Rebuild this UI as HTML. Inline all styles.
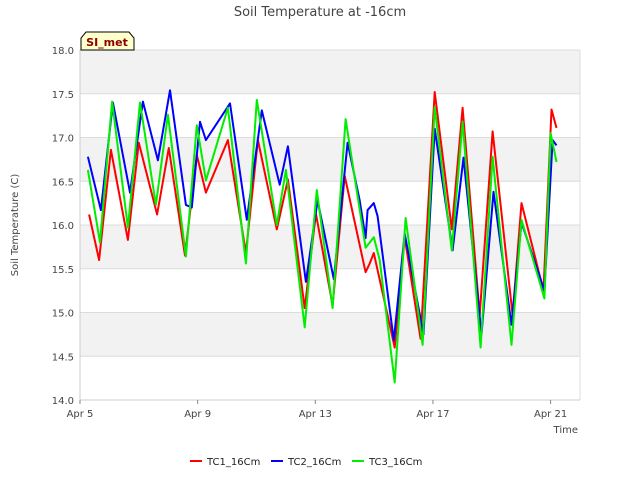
<!DOCTYPE html>
<html><head><meta charset="utf-8"><style>
body{margin:0;background:#fff;font-family:"Liberation Sans","DejaVu Sans",sans-serif}
svg text{font-family:"DejaVu Sans","Liberation Sans",sans-serif}
</style></head><body>
<svg id="c" width="640" height="480" xmlns="http://www.w3.org/2000/svg">
<rect width="640" height="480" fill="#fff"/>
<text x="320" y="16" text-anchor="middle" font-size="13" fill="#444">Soil Temperature at -16cm</text>
<g id="bands"></g><g id="axes"></g><g id="series"></g>
<g>
<path d="M81,50 L81,38 L86,32 L129,32 L134,38 L134,50 Z" fill="#ffffcc" stroke="#000" stroke-width="1"/>
<text x="107" y="46" text-anchor="middle" font-size="11" font-weight="bold" fill="#8b0000">SI_met</text>
</g>
<text transform="translate(18,225) rotate(-90)" text-anchor="middle" font-size="10" fill="#444">Soil Temperature (C)</text>
<text x="578" y="433" text-anchor="end" font-size="10" fill="#444">Time</text>
<g id="legend"></g>
</svg>
<script>
const yTicks=[14.0,14.5,15.0,15.5,16.0,16.5,17.0,17.5,18.0];
const xTickDays=[0,4,8,12,16];
const xTickLabels=["Apr 5","Apr 9","Apr 13","Apr 17","Apr 21"];
const seriesNames=["TC1_16Cm","TC2_16Cm","TC3_16Cm"];
const seriesColors=["#ff0000","#0000ff","#00ee00"];
const tc1Days=[.31,.65,1.05,1.63,2.0,2.62,3.02,3.57,3.97,4.28,5.03,5.64,6.05,6.69,7.07,7.64,8.02,8.59,9.0,9.71,9.85,9.99,10.7,11.04,11.58,12.06,12.64,13.01,13.59,14.03,14.71,15.01,15.76,16.03,16.2];
const tc1Vals=[16.12,15.6,16.86,15.83,16.94,16.12,16.88,15.65,16.8,16.37,16.97,15.68,16.97,15.95,16.52,15.05,16.13,15.08,16.56,15.46,15.56,15.68,14.6,15.86,14.7,17.52,15.95,17.34,14.97,17.07,14.97,16.25,15.25,17.32,17.11];
const tc2Days=[.27,.71,1.12,1.70,2.14,2.65,3.06,3.6,3.8,4.08,4.28,5.1,5.67,6.18,6.79,7.07,7.68,8.08,8.63,9.1,9.51,9.71,9.78,9.99,10.12,10.67,11.04,11.68,12.06,12.67,13.04,13.65,14.06,14.67,15.01,15.79,16.07,16.2];
const tc2Vals=[16.78,16.17,17.4,16.37,17.41,16.74,17.54,16.23,16.2,17.18,16.97,17.39,16.06,17.31,16.46,16.9,15.35,16.28,15.38,16.94,16.28,15.85,16.17,16.25,16.1,14.68,15.9,14.75,17.1,15.71,16.77,14.75,16.38,14.86,16.03,15.25,16.97,16.91];
const tc3Days=[.27,.68,1.09,1.63,2.04,2.58,2.99,3.6,3.97,4.28,5.03,5.64,6.01,6.69,7.0,7.64,8.05,8.59,9.03,9.71,9.99,10.19,10.7,11.07,11.65,12.06,12.64,13.01,13.62,14.03,14.67,15.01,15.79,16.0,16.2];
const tc3Vals=[16.63,15.8,17.41,15.97,17.4,16.23,17.26,15.64,17.14,16.51,17.34,15.56,17.43,16.0,16.63,14.83,16.4,15.05,17.21,15.74,15.86,15.6,14.2,16.08,14.63,17.35,15.71,17.18,14.6,16.78,14.63,16.06,15.16,17.05,16.72];

const NS="http://www.w3.org/2000/svg";
const L=80,R=580,T=50,B=400,dMin=0,dMax=17,vMin=14,vMax=18;
const xS=d=>L+(d-dMin)/(dMax-dMin)*(R-L);
const yS=v=>B-(v-vMin)/(vMax-vMin)*(B-T);
function mk(tag,attrs,parent){const e=document.createElementNS(NS,tag);for(const k in attrs)e.setAttribute(k,attrs[k]);parent.appendChild(e);return e;}
const bands=document.getElementById('bands'),axes=document.getElementById('axes');
for(let i=0;i<yTicks.length-1;i++){
  if(i%2===1){const r=mk('rect',{x:L,y:yS(yTicks[i+1]),width:R-L,height:yS(yTicks[i])-yS(yTicks[i+1]),fill:'#f2f2f2'},bands);
  
  }
}
yTicks.forEach(v=>{
  const g=mk('line',{x1:L,x2:R,y1:yS(v),y2:yS(v),stroke:'#dcdcdc','stroke-width':1},axes);
  
  
  const t=mk('text',{x:L-6,y:yS(v)+4,'text-anchor':'end','font-size':10,fill:'#444'},axes);
  t.textContent=v.toFixed(1);
  
  
});
mk('line',{x1:L,x2:L,y1:T,y2:B,stroke:'#ccc'},axes);
mk('line',{x1:R,x2:R,y1:T,y2:B,stroke:'#ddd'},axes);
mk('line',{x1:L,x2:R,y1:B,y2:B,stroke:'#ccc'},axes);
xTickDays.forEach((d,i)=>{
  mk('line',{x1:xS(d),x2:xS(d),y1:B,y2:B+4,stroke:'#888'},axes);
  const t=mk('text',{x:xS(d),y:B+17,'text-anchor':'middle','font-size':10,fill:'#444'},axes);
  t.textContent=xTickLabels[i];
  
  
});
const sg=document.getElementById('series');
const all=[[tc1Days,tc1Vals],[tc2Days,tc2Vals],[tc3Days,tc3Vals]];
all.forEach((s,i)=>{
  const pts=s[0].map((d,j)=>xS(d).toFixed(1)+','+yS(s[1][j]).toFixed(1)).join(' ');
  const p=mk('polyline',{points:pts,fill:'none',stroke:seriesColors[i],'stroke-width':2,'stroke-linejoin':'round'},sg);
  
  
});
const lg=document.getElementById('legend');
const lx=[190,271,352];
seriesNames.forEach((n,i)=>{
  const g=mk('g',{},lg);
  
  
  mk('line',{x1:lx[i],x2:lx[i]+12,y1:461,y2:461,stroke:seriesColors[i],'stroke-width':2},g);
  const t=mk('text',{x:lx[i]+17,y:465,'font-size':10,fill:'#222'},g);
  t.textContent=n;
});
</script>
</body></html>
